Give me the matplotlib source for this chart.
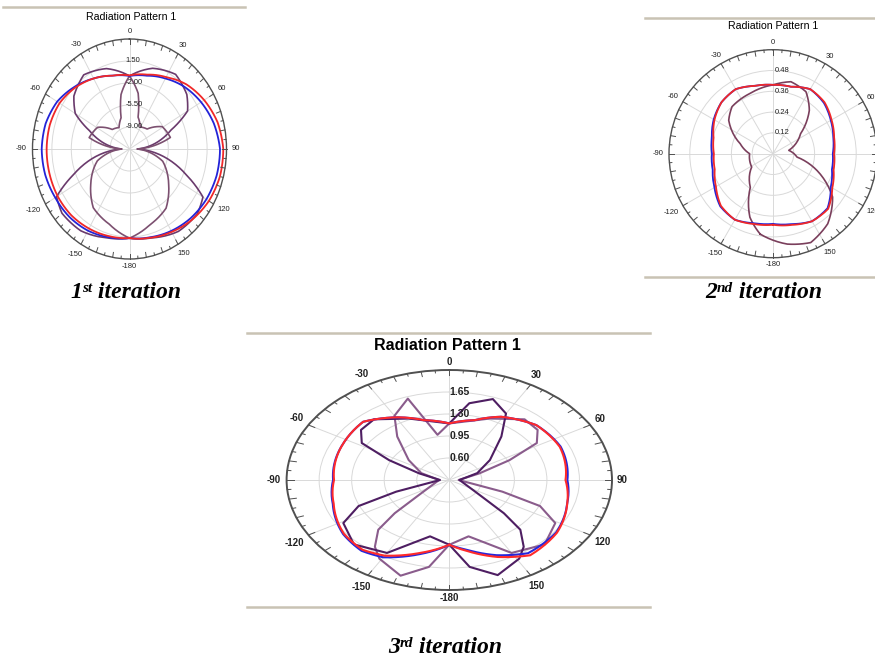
import numpy as np
import matplotlib.pyplot as plt
from matplotlib.lines import Line2D
from matplotlib.text import Annotation

plt.rcParams['font.family'] = ['Liberation Sans', 'DejaVu Sans']

# ---- 1st iteration (gain, dB) ----
it1_theta = list(range(-180, 181, 15))
it1_blue = [1.68, 2.03, 2.50, 2.81, 2.97, 3.25, 3.34, 3.16, 2.57, 1.50, 0.45, -0.43, -0.88,
            -0.43, 0.45, 1.50, 2.41, 3.25, 3.83, 3.78, 3.51, 3.08, 2.55, 2.03, 1.68]
it1_red = [1.68, 1.85, 2.11, 2.38, 2.48, 2.46, 2.45, 2.38, 2.08, 1.33, 0.45, -0.43, -0.78,
           -0.25, 0.71, 2.03, 3.06, 3.95, 4.42, 4.39, 4.04, 3.43, 2.73, 2.11, 1.68]
it1_theta_a = [-180, -164, -146, -130, -120, -112, -90, -68, -60, -50, -35, -18, 0,
               18, 35, 50, 60, 68, 90, 112, 120, 130, 146, 164, 180]
it1_gain_a = [1.68, 2.2, 3.2, 3.4, 2.7, -1.6, -11.1, -4.7, -1.2, 0.6, 1.9, 0.95, -0.88,
              1.0, 2.0, 1.0, -0.4, -4.4, -11.1, -1.4, 2.8, 3.5, 3.3, 2.2, 1.68]
it1_theta_b = [-180, -163, -145, -129, -108, -90, -76, -59, -45, -29, -17, -10, 0,
               10, 17, 29, 45, 59, 76, 90, 108, 129, 145, 163, 180]
it1_gain_b = [1.68, 0.0, -1.1, -3.5, -6.4, -11.1, -5.0, -5.8, -8.1, -8.6, -7.3, -3.7, -0.88,
              -3.5, -7.2, -8.5, -8.0, -5.6, -4.9, -11.1, -6.2, -3.4, -1.0, 0.1, 1.68]
it1_rticks = [-9.0, -5.5, -2.0, 1.5]

# ---- 2nd iteration ----
it2_theta = list(range(-180, 181, 15))
it2_blue = [0.405, 0.415, 0.44, 0.43, 0.39, 0.36, 0.352, 0.365, 0.395, 0.42, 0.43, 0.405, 0.397,
            0.40, 0.43, 0.415, 0.385, 0.36, 0.345, 0.352, 0.385, 0.445, 0.45, 0.42, 0.405]
it2_red = [0.41, 0.42, 0.44, 0.425, 0.38, 0.348, 0.341, 0.355, 0.39, 0.42, 0.43, 0.405, 0.397,
           0.40, 0.43, 0.42, 0.39, 0.365, 0.352, 0.362, 0.395, 0.45, 0.45, 0.425, 0.41]
it2_theta_p = [-171, -160, -146, -122, -90, -73, -53, -41, -21, 0, 14, 28, 40, 54, 78,
               98, 111, 126, 142, 157, 171]
it2_gain_p = [0.47, 0.39, 0.234, 0.145, 0.135, 0.198, 0.32, 0.36, 0.372, 0.397, 0.428, 0.405,
              0.326, 0.197, 0.093, 0.14, 0.273, 0.425, 0.513, 0.557, 0.528]
it2_rticks = [0.12, 0.24, 0.36, 0.48]

# ---- 3rd iteration ----
it3_theta_rb = [-180, -165, -150, -140, -127, -107, -90, -63, -45, -29, -16, 0,
                16, 29, 47, 66, 90, 106, 126, 144, 157, 170, 180]
it3_red = [1.28, 1.45, 1.64, 1.70, 1.67, 1.55, 1.49, 1.53, 1.56, 1.39, 1.24, 1.15,
           1.24, 1.40, 1.53, 1.55, 1.50, 1.57, 1.68, 1.73, 1.58, 1.40, 1.28]
it3_blue = [1.28, 1.47, 1.67, 1.72, 1.68, 1.56, 1.50, 1.53, 1.56, 1.39, 1.24, 1.15,
            1.24, 1.40, 1.53, 1.56, 1.52, 1.57, 1.67, 1.69, 1.55, 1.38, 1.28]
it3_theta_dark = [-180, -167, -150, -135, -121, -113, -108, -90, -72, -64, -58, -50, -40, -24, 0,
                  10, 20, 30, 39, 54, 70, 90, 125, 132, 136, 143, 149, 161, 171, 180]
it3_dark = [1.28, 1.17, 1.59, 1.70, 1.58, 1.31, 0.85, 0.35, 0.59, 0.97, 1.36, 1.49, 1.51, 1.32, 1.15,
            1.49, 1.62, 1.47, 1.14, 0.79, 0.57, 0.36, 0.62, 1.04, 1.35, 1.58, 1.71, 1.85, 1.65, 1.28]
it3_theta_light = [-180, -171, -161, -149, -143, -136, -132, -125, -90, -70, -54, -39, -30, -19, -10, 0,
                   24, 40, 50, 58, 64, 72, 90, 108, 113, 121, 135, 150, 167, 180]
it3_light = [1.28, 1.65, 1.86, 1.71, 1.58, 1.35, 1.04, 0.62, 0.36, 0.57, 0.79, 1.14, 1.43, 1.62, 0.98, 1.15,
             1.32, 1.51, 1.49, 1.36, 0.97, 0.59, 0.35, 0.85, 1.31, 1.58, 1.70, 1.59, 1.17, 1.28]
it3_rticks = [0.60, 0.95, 1.30, 1.65]

angle_labels = ['0', '30', '60', '90', '120', '150', '-180', '-150', '-120', '-90', '-60', '-30']

W, H = 875, 659
fig = plt.figure(figsize=(W / 100, H / 100), dpi=100)


def px_rect(cx, cy, rx, ry):
    return [(cx - rx) / W, 1 - (cy + ry) / H, 2 * rx / W, 2 * ry / H]


def pattern_axes(rect, rlim, rticks, tick_fs, rad_fs, weight, lab_dx, gap, spine_lw):
    ax = fig.add_axes(rect, projection='polar')
    ax.set_aspect('auto')
    ax.set_theta_zero_location('N')
    ax.set_theta_direction(-1)
    ax.set_ylim(*rlim)
    ax.set_yticks(rticks)
    ax.set_yticklabels([])
    ax.set_xticks(np.radians(np.arange(0, 360, 30)))
    ax.set_xticklabels([])
    ax.tick_params(axis='x', length=0)
    ax.grid(True, color='#d9d9d9', lw=0.7)
    ax.spines['polar'].set_color('#505050')
    ax.spines['polar'].set_linewidth(spine_lw)

    # inward rim ticks every 5 deg, longer every 10 deg
    ry_px = rect[3] * H / 2
    span = rlim[1] - rlim[0]
    for deg in range(0, 360, 5):
        ln = 5.0 if deg % 10 == 0 else 2.5
        th = np.radians(deg)
        ax.plot([th, th], [rlim[1] - span * ln / ry_px, rlim[1]], color='#505050', lw=0.7,
                clip_on=False, zorder=3)

    # angle labels just outside the rim
    for deg, lab in zip(range(0, 360, 30), angle_labels):
        th = np.radians(deg)
        w = len(lab) * 0.58 * tick_fs
        h = 0.72 * tick_fs
        d = gap + abs(np.sin(th)) * w / 2 + abs(np.cos(th)) * h / 2
        ax.annotate(lab, xy=(th, rlim[1]), xytext=(d * np.sin(th), d * np.cos(th)),
                    textcoords='offset points', ha='center', va='center', fontsize=tick_fs,
                    fontweight=weight, color='#222222', annotation_clip=False)
    # radial scale along the 0 deg spoke
    for r in rticks:
        ax.annotate(f'{r:.2f}', xy=(0, r), xytext=(lab_dx, 0), textcoords='offset points',
                    ha='left', va='center', fontsize=rad_fs, fontweight=weight, color='#222222')
    return ax


def trace(ax, theta, values, color, lw, smooth=True):
    line, = ax.plot(np.radians(theta), values, color=color, lw=lw, solid_joinstyle='round')
    if smooth:
        # follow the polar grid between samples instead of straight chords
        line.get_path()._interpolation_steps = 12
    return line


def hline(x0, x1, y):
    fig.add_artist(Line2D([x0 / W, x1 / W], [1 - y / H] * 2, color='#c9c3b4', lw=1.8,
                          transform=fig.transFigure))


# 1st iteration
ax1 = pattern_axes(px_rect(129.5, 149, 97, 110), (-12.5, 5.0), it1_rticks,
                   5.5, 5.5, 'normal', -3, 3.5, 1.0)
trace(ax1, it1_theta_a, it1_gain_a, '#6a3a6c', 1.2)
trace(ax1, it1_theta_b, it1_gain_b, '#7c5070', 1.2)
trace(ax1, it1_theta, it1_blue, '#2323d8', 1.3)
trace(ax1, it1_theta, it1_red, '#f02828', 1.3)
fig.text(131 / W, 1 - 17 / H, 'Radiation Pattern 1', ha='center', va='center', fontsize=7.6)
hline(3, 245, 7)

# 2nd iteration
ax2 = pattern_axes(px_rect(773, 153.7, 104, 104), (0, 0.6), it2_rticks,
                   5.5, 5.5, 'normal', 1, 3.0, 1.0)
trace(ax2, it2_theta_p + [it2_theta_p[0] + 360], it2_gain_p + [it2_gain_p[0]], '#7a3f5c', 1.2)
trace(ax2, it2_theta, it2_blue, '#2323d8', 1.3)
trace(ax2, it2_theta, it2_red, '#f02828', 1.3)
fig.text(773 / W, 1 - 26 / H, 'Radiation Pattern 1', ha='center', va='center', fontsize=7.6)
hline(645, 875, 18)
hline(645, 875, 277)

# 3rd iteration
ax3 = pattern_axes(px_rect(449.3, 480, 162.7, 110), (0.25, 2.0), it3_rticks,
                   7, 7.5, 'bold', 0, 3.5, 1.4)
trace(ax3, it3_theta_light, it3_light, '#8a5c8c', 1.5, smooth=False)
trace(ax3, it3_theta_dark, it3_dark, '#4e1e62', 1.5, smooth=False)
trace(ax3, it3_theta_rb, it3_blue, '#2626dc', 1.5)
trace(ax3, it3_theta_rb, it3_red, '#ff2a2a', 1.5)
fig.text(447 / W, 1 - 345 / H, 'Radiation Pattern 1', ha='center', va='center',
         fontsize=11.5, fontweight='bold')
hline(247, 650, 333)
hline(247, 650, 607)


def caption(x, y, num, sup):
    kw = dict(family='Liberation Serif', weight='bold', style='italic', color='black')
    t1 = fig.text(x / W, 1 - y / H, num, fontsize=17, ha='left', va='baseline', **kw)
    t2 = Annotation(sup, xy=(1, 1), xycoords=t1, ha='left', va='top', fontsize=11, **kw)
    fig.add_artist(t2)
    t3 = Annotation(' iteration', xy=(1, 0), xycoords=(t2, t1), ha='left', va='bottom',
                    fontsize=17, **kw)
    fig.add_artist(t3)


caption(70, 298, '1', 'st')
caption(705, 298, '2', 'nd')
caption(388, 653, '3', 'rd')

fig.savefig('out.png', dpi=100)
